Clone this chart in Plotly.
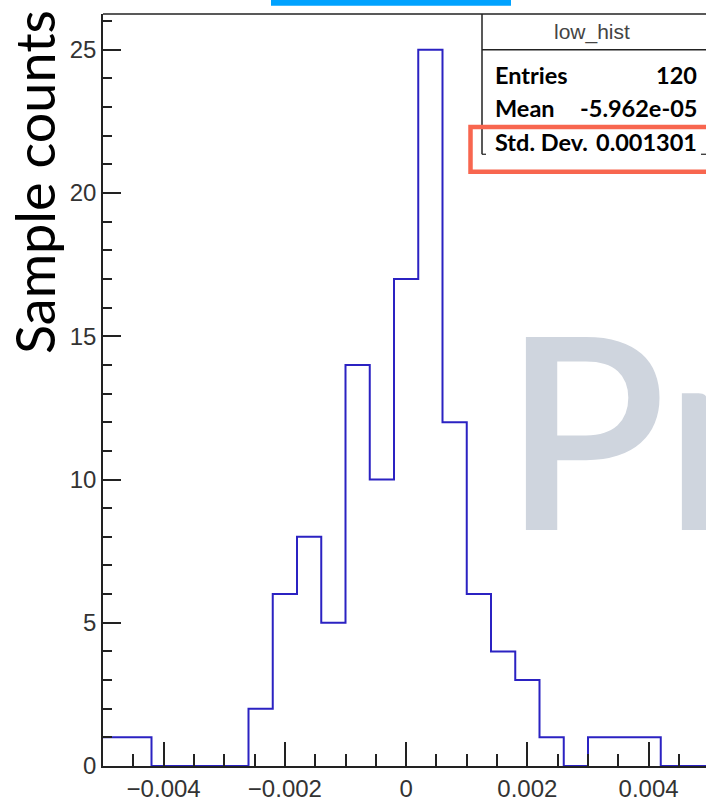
import numpy as np
import plotly.graph_objects as go

# Histogram "low_hist": fixed binning and counts per bin
bin_low = -0.005
bin_width = 0.0004
counts = [1, 1, 0, 0, 0, 0, 2, 6, 8, 5, 14, 10, 17, 25, 12, 6, 4, 3, 1, 0, 1, 1, 1, 0, 0]

# Stats box contents
stats_title = "low_hist"
stats_rows = [("Entries", "120"), ("Mean", "-5.962e-05"), ("Std. Dev.", "0.001301")]

x_tickvals = [-0.004, -0.002, 0, 0.002, 0.004]
x_ticktext = ["\u22120.004", "\u22120.002", "0", "0.002", "0.004"]
y_tickvals = [0, 5, 10, 15, 20, 25]

W, H = 706, 802
L, R, T, B = 103, 0, 14, 32
PW, PH = W - L - R, H - T - B


def px(xp):
    return (xp - L) / PW


def py(yp):
    return (H - B - yp) / PH


edges = bin_low + bin_width * np.arange(len(counts) + 1)
step_y = list(counts) + [0]

fig = go.Figure()
fig.add_trace(go.Scatter(
    x=edges, y=step_y, mode="lines", line_shape="hv",
    line=dict(color="#2b22c2", width=2), hoverinfo="skip", showlegend=False,
))

shapes = []
# top frame line across the pad
shapes.append(dict(type="line", xref="paper", yref="paper", x0=0, x1=1.02, y0=1, y1=1,
                   line=dict(color="#222", width=1.5)))
# stats box borders
shapes.append(dict(type="line", xref="paper", yref="paper", x0=px(482), x1=px(482), y0=py(14), y1=py(155),
                   line=dict(color="#222", width=1.5)))
shapes.append(dict(type="line", xref="paper", yref="paper", x0=px(482), x1=1.02, y0=py(50), y1=py(50),
                   line=dict(color="#222", width=1.5)))
shapes.append(dict(type="line", xref="paper", yref="paper", x0=px(482), x1=px(486), y0=py(155), y1=py(155),
                   line=dict(color="#222", width=1.2)))
shapes.append(dict(type="line", xref="paper", yref="paper", x0=px(701), x1=1.02, y0=py(155), y1=py(155),
                   line=dict(color="#222", width=1.2)))
# highlight frame around the standard deviation row
shapes.append(dict(type="rect", xref="paper", yref="paper", x0=px(470.5), x1=px(712), y0=py(127.5), y1=py(172.5),
                   line=dict(color="#f8664f", width=4.5)))
# blue bar at the top edge
shapes.append(dict(type="rect", xref="paper", yref="paper", x0=px(271), x1=px(511), y0=py(0), y1=py(5.7),
                   line=dict(width=0), fillcolor="#00a2ff"))

annotations = []
annotations.append(dict(text="Sample counts", xref="paper", yref="paper", x=px(34), y=py(183),
                        xanchor="center", yanchor="middle", textangle=-90, showarrow=False,
                        font=dict(family="Lato", size=54, color="#000")))
annotations.append(dict(text="Pr", xref="paper", yref="paper", x=px(501), y=py(428),
                        xanchor="left", yanchor="middle", showarrow=False,
                        font=dict(family="Lato", size=268, color="#cfd5de", weight=600)))
annotations.append(dict(text=stats_title, xref="paper", yref="paper", x=px(592), y=py(32),
                        xanchor="center", yanchor="middle", showarrow=False,
                        font=dict(family="Liberation Sans", size=21, color="#444")))
row_y = [75, 108, 142.5]
for (lab, val), yy in zip(stats_rows, row_y):
    annotations.append(dict(text=f"<b>{lab}</b>", xref="paper", yref="paper", x=px(493), y=py(yy),
                            xanchor="left", yanchor="middle", showarrow=False,
                            font=dict(family="Lato", size=23.5, color="#000")))
    annotations.append(dict(text=f"<b>{val}</b>", xref="paper", yref="paper", x=px(699), y=py(yy),
                            xanchor="right", yanchor="middle", showarrow=False,
                            font=dict(family="Lato", size=23.5, color="#000")))

fig.update_layout(
    width=W, height=H, margin=dict(l=L, r=R, t=T, b=B, pad=0),
    paper_bgcolor="white", plot_bgcolor="white",
    shapes=shapes, annotations=annotations, showlegend=False,
    xaxis=dict(range=[-0.005, -0.005 + PW / 60625], showgrid=False, zeroline=False,
               showline=True, linecolor="#222", linewidth=1.5,
               ticks="inside", ticklen=24, tickwidth=1.5, tickcolor="#222",
               tickvals=x_tickvals, ticktext=x_ticktext,
               minor=dict(dtick=0.0005, tick0=0, ticks="inside", ticklen=12, tickwidth=1.5, tickcolor="#222"),
               tickfont=dict(family="Liberation Sans", size=24, color="#333")),
    yaxis=dict(range=[0, 26.25], showgrid=False, zeroline=False,
               showline=True, linecolor="#222", linewidth=1.5,
               ticks="inside", ticklen=18, tickwidth=1.5, tickcolor="#222",
               tickvals=y_tickvals,
               minor=dict(dtick=1, tick0=0, ticks="inside", ticklen=9, tickwidth=1.5, tickcolor="#222"),
               tickfont=dict(family="Liberation Sans", size=24, color="#333")),
)

fig.write_html("out.html")
